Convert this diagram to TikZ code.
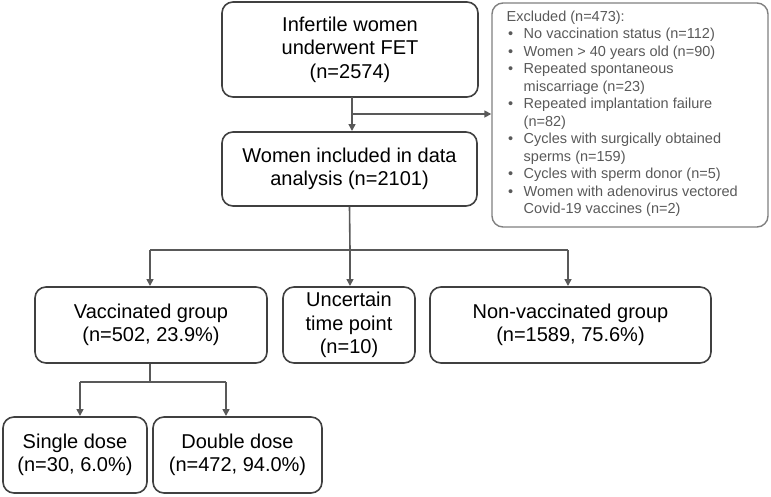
\documentclass[tikz,border=0pt]{standalone}
\usepackage{fontspec}
\setmainfont{Liberation Sans}
\usetikzlibrary{arrows.meta,positioning}
\definecolor{boxline}{HTML}{404040}
\definecolor{arrline}{HTML}{595959}
\definecolor{exline}{HTML}{808080}
\definecolor{extext}{HTML}{595959}
\newcommand{\bul}{\makebox[17pt][l]{\hspace{1.5pt}\textbullet}}
\newcommand{\cont}{\hspace*{17pt}}
\tikzset{
  mainbox/.style={draw=boxline, line width=1.6pt, rounded corners=11pt, align=center,
    font=\fontsize{20}{23.5}\selectfont, text=black, inner sep=0pt},
  conn/.style={draw=arrline, line width=1.6pt},
  arr/.style={conn, -{Triangle[length=7pt,width=7pt]}},
  exbox/.style={draw=exline, line width=1.4pt, rounded corners=11pt, text=extext,
    font=\fontsize{14.5}{17.5}\selectfont, align=left, inner sep=0pt},
}
\begin{document}
\begin{tikzpicture}[x=1pt,y=-1pt]
\useasboundingbox (0,0) rectangle (771,496);
\node[mainbox, minimum width=256pt, minimum height=95pt] (top) at (350,49.5) {Infertile women\\underwent FET\\(n=2574)};
\node[mainbox, minimum width=255pt, minimum height=74pt] (incl) at (349.5,169) {Women included in data\\analysis (n=2101)};
\node[exbox, minimum width=276pt, minimum height=224pt] (excl) at (630,115) {};
\node[exbox, draw=none, anchor=north west] (extxt) at (506,10) {%
Excluded (n=473):\\
\bul No vaccination status (n=112)\\
\bul Women > 40 years old (n=90)\\
\bul Repeated spontaneous\\
\cont miscarriage (n=23)\\
\bul Repeated implantation failure\\
\cont (n=82)\\
\bul Cycles with surgically obtained\\
\cont sperms (n=159)\\
\bul Cycles with sperm donor (n=5)\\
\bul Women with adenovirus vectored\\
\cont Covid-19 vaccines (n=2)};
\node[mainbox, minimum width=232pt, minimum height=76pt] (vac) at (151,325) {Vaccinated group\\(n=502, 23.9\%)};
\node[mainbox, minimum width=132pt, minimum height=76pt] (unc) at (349,325) {Uncertain\\time point\\(n=10)};
\node[mainbox, minimum width=281pt, minimum height=76pt] (non) at (570.5,325) {Non-vaccinated group\\(n=1589, 75.6\%)};
\node[mainbox, minimum width=144pt, minimum height=76pt] (single) at (75,455) {Single dose\\(n=30, 6.0\%)};
\node[mainbox, minimum width=169pt, minimum height=76pt] (double) at (237.5,455) {Double dose\\(n=472, 94.0\%)};
% top to included
\coordinate (j1) at (352,114);
\draw[arr] (352,97) -- (352,131);
\draw[arr] (j1) -- (excl.west |- j1);
% included to groups
\coordinate (j2) at (350,250);
\coordinate (jl) at (150,250);
\coordinate (jr) at (568,250);
\draw[conn] (incl.south) -- (j2);
\draw[conn] (jl) -- (jr);
\draw[arr] (jl) -- (150,286);
\draw[arr] (j2) -- (350,286);
\draw[arr] (jr) -- (568,286);
% vaccinated to doses
\coordinate (j3) at (150,382);
\coordinate (j3l) at (80,382);
\coordinate (j3r) at (226,382);
\draw[conn] (vac.south -| j3) -- (j3);
\draw[conn] (j3l) -- (j3r);
\draw[arr] (j3l) -- (80,416);
\draw[arr] (j3r) -- (226,416);
\end{tikzpicture}
\end{document}
